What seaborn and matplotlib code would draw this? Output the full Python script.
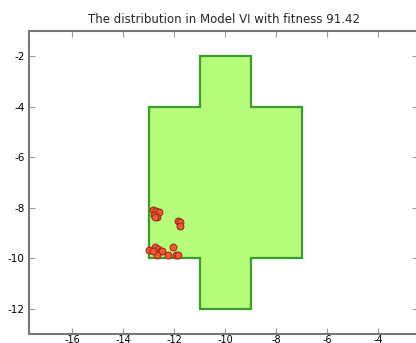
import matplotlib
matplotlib.use("Agg")
import matplotlib.pyplot as plt
import seaborn as sns
import pandas as pd

# Cross-shaped region outline (x, y vertices)
region_x = [-13, -11, -11, -9, -9, -7, -7, -9, -9, -11, -11, -13]
region_y = [-4, -4, -2, -2, -4, -4, -10, -10, -12, -12, -10, -10]

# Individual positions
pts_x = [-12.84, -12.71, -12.58, -12.78, -12.65, -12.76,
         -11.85, -11.76, -11.76,
         -12.97, -12.75, -12.62, -12.55, -12.48, -12.65, -12.22,
         -12.03, -11.92, -11.83, -12.81]
pts_y = [-8.07, -8.11, -8.15, -8.27, -8.38, -8.35,
         -8.51, -8.55, -8.71,
         -9.67, -9.56, -9.63, -9.70, -9.72, -9.89, -9.89,
         -9.56, -9.89, -9.89, -9.70]

title = "The distribution in Model VI with fitness 91.42"
x_ticks = [-16, -14, -12, -10, -8, -6, -4]
y_ticks = [-2, -4, -6, -8, -10, -12]

sns.set_style("white")
plt.rcParams['font.family'] = ['DejaVu Sans']

fig = plt.figure(figsize=(4.16, 3.43), dpi=100)
ax = fig.add_axes([29 / 416, 9 / 343, 389 / 416, 303 / 343])

ax.fill(region_x, region_y, facecolor="#b6fd7c", edgecolor="#3a9e2c",
        linewidth=1.6, zorder=1)

df = pd.DataFrame({"x": pts_x, "y": pts_y})
sns.scatterplot(data=df, x="x", y="y", ax=ax, s=24, marker="o",
                color="#ec5a36", edgecolor="#a82a14", linewidth=0.8,
                zorder=3, legend=False)

ax.set_xlim(-17.69, -2.43)
ax.set_ylim(-13, -1)
ax.set_xticks(x_ticks)
ax.set_yticks(y_ticks)
ax.set_xticklabels([str(v) for v in x_ticks])
ax.set_yticklabels([str(v) for v in y_ticks])
ax.set_xlabel("")
ax.set_ylabel("")
ax.tick_params(direction="in", length=4, width=0.8, color="#999999",
               labelsize=7.5, labelcolor="black", top=True, right=True,
               bottom=True, left=True, pad=3)
ax.tick_params(axis="x", pad=0.5, labelsize=7)
for sp in ax.spines.values():
    sp.set_visible(True)
    sp.set_color("#777777")
    sp.set_linewidth(1.5)

ax.set_title(title, fontsize=8.5, pad=6)

fig.savefig("out.png", dpi=100)
